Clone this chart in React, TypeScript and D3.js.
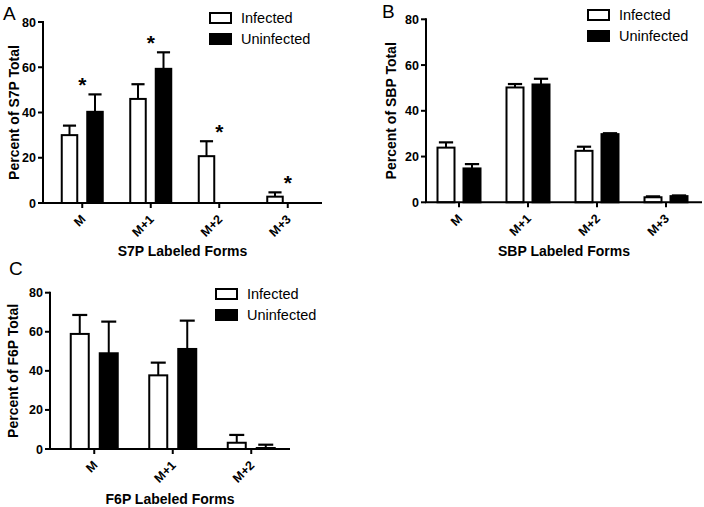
import React from "react";
import * as d3 from "d3";

const categoriesAB = ["M", "M+1", "M+2", "M+3"];
const categoriesC = ["M", "M+1", "M+2"];
const seriesNames = ["Infected", "Uninfected"];
const yTickValues = [0, 20, 40, 60, 80];

const s7pInfected = [30, 46, 20.7, 2.8];
const s7pInfectedErr = [4.2, 6.5, 6.6, 1.9];
const s7pUninfected = [40.3, 59.3, 0, 0];
const s7pUninfectedErr = [7.7, 7.3, 0, 0];
const s7pStars = [true, true, true, true];

const sbpInfected = [23.9, 50.2, 22.5, 2.2];
const sbpInfectedErr = [2.3, 1.5, 1.8, 0.4];
const sbpUninfected = [14.8, 51.5, 29.8, 2.7];
const sbpUninfectedErr = [1.9, 2.5, 0.4, 0.3];

const f6pInfected = [58.9, 37.7, 3.2];
const f6pInfectedErr = [9.7, 6.5, 4.0];
const f6pUninfected = [49, 51.2, 0.5];
const f6pUninfectedErr = [16.2, 14.5, 1.7];

const FONT = "'Liberation Sans', Arial, Helvetica, sans-serif";

type PanelProps = {
  letter: string;
  letterX: number;
  letterY: number;
  cats: string[];
  inf: number[];
  infErr: number[];
  un: number[];
  unErr: number[];
  stars?: boolean[];
  axisX: number;
  axisEnd: number;
  bandStart: number;
  bandEnd: number;
  yTop: number;
  yBottom: number;
  barW: number;
  gap: number;
  yLabel: string;
  yLabelX: number;
  xLabel: string;
  xLabelY: number;
  legendX: number;
  legendY: number;
};

function Panel(p: PanelProps) {
  const x0 = d3.scaleBand<string>().domain(p.cats).range([p.bandStart, p.bandEnd]);
  const groupW = p.barW * 2 + p.gap;
  const x1 = d3
    .scaleBand<string>()
    .domain(seriesNames)
    .range([-groupW / 2, groupW / 2])
    .paddingInner(p.gap / (p.barW + p.gap));
  const y = d3.scaleLinear().domain([0, 80]).range([p.yBottom, p.yTop]);
  const bw = x1.bandwidth();
  const series = [
    { name: "Infected", vals: p.inf, errs: p.infErr, fill: "#fff" },
    { name: "Uninfected", vals: p.un, errs: p.unErr, fill: "#000" },
  ];
  const capW = bw * 0.75;
  return (
    <g>
      <text x={p.letterX} y={p.letterY} fontSize={19} fontFamily={FONT}>
        {p.letter}
      </text>
      {/* bars */}
      {series.map((s) =>
        p.cats.map((c, i) => {
          const v = s.vals[i];
          if (!v) return null;
          const bx = (x0(c) as number) + x0.bandwidth() / 2 + (x1(s.name) as number);
          const top = y(v);
          const errTop = y(v + s.errs[i]);
          const cx = bx + bw / 2;
          return (
            <g key={s.name + c}>
              <line x1={cx} x2={cx} y1={top} y2={errTop} stroke="#000" strokeWidth={2} />
              <line x1={cx - capW / 2} x2={cx + capW / 2} y1={errTop} y2={errTop} stroke="#000" strokeWidth={2.2} />
              <rect x={bx + 1} y={top} width={bw - 2} height={y(0) - top} fill={s.fill} stroke="#000" strokeWidth={2} />
            </g>
          );
        })
      )}
      {/* stars */}
      {p.stars &&
        p.cats.map((c, i) => {
          if (!p.stars![i]) return null;
          const cx = (x0(c) as number) + x0.bandwidth() / 2;
          const top = Math.max(p.inf[i] + p.infErr[i], p.un[i] + p.unErr[i]);
          return (
            <text key={"st" + c} x={cx} y={y(top) - 2} textAnchor="middle" fontSize={21} fontWeight="bold" fontFamily={FONT}>
              *
            </text>
          );
        })}
      {/* y axis */}
      <line x1={p.axisX} x2={p.axisX} y1={y(80) - 1} y2={y(0)} stroke="#000" strokeWidth={2} />
      {yTickValues.map((t) => (
        <g key={"yt" + t}>
          <line x1={p.axisX - 5} x2={p.axisX} y1={y(t)} y2={y(t)} stroke="#000" strokeWidth={2} />
          <text x={p.axisX - 7} y={y(t)} dy="0.36em" textAnchor="end" fontSize={12.5} fontWeight="bold" fontFamily={FONT}>
            {t}
          </text>
        </g>
      ))}
      {/* x axis */}
      <line x1={p.axisX - 1} x2={p.axisEnd} y1={y(0)} y2={y(0)} stroke="#000" strokeWidth={2} />
      {p.cats.map((c) => {
        const cx = (x0(c) as number) + x0.bandwidth() / 2;
        return (
          <g key={"xt" + c}>
            <line x1={cx} x2={cx} y1={y(0)} y2={y(0) + 5} stroke="#000" strokeWidth={2} />
            <text
              transform={`translate(${cx + 4},${y(0) + 17}) rotate(-45)`}
              textAnchor="end"
              fontSize={12.5}
              fontWeight="bold"
              fontFamily={FONT}
            >
              {c}
            </text>
          </g>
        );
      })}
      {/* labels */}
      <text
        transform={`translate(${p.yLabelX},${(p.yTop + p.yBottom) / 2}) rotate(-90)`}
        textAnchor="middle"
        fontSize={14}
        fontWeight="bold"
        fontFamily={FONT}
      >
        {p.yLabel}
      </text>
      <text x={(p.axisX + p.axisEnd) / 2} y={p.xLabelY} textAnchor="middle" fontSize={14} fontWeight="bold" fontFamily={FONT}>
        {p.xLabel}
      </text>
      {/* legend */}
      {series.map((s, i) => (
        <g key={"lg" + s.name}>
          <rect x={p.legendX} y={p.legendY + i * 21} width={21} height={10} fill={s.fill} stroke="#000" strokeWidth={2} />
          <text x={p.legendX + 31} y={p.legendY + i * 21 + 5} dy="0.36em" fontSize={14.5} fontFamily={FONT}>
            {s.name}
          </text>
        </g>
      ))}
    </g>
  );
}

export default function App() {
  return (
    <svg width={704} height={507} style={{ position: "absolute", left: 0, top: 0, background: "#fff" }}>
      <rect width={704} height={507} fill="#fff" />
      <Panel
        letter="A"
        letterX={3}
        letterY={20}
        cats={categoriesAB}
        inf={s7pInfected}
        infErr={s7pInfectedErr}
        un={s7pUninfected}
        unErr={s7pUninfectedErr}
        stars={s7pStars}
        axisX={43}
        axisEnd={322}
        bandStart={48}
        bandEnd={322}
        yTop={22}
        yBottom={203}
        barW={17.5}
        gap={8}
        yLabel="Percent of S7P Total"
        yLabelX={19}
        xLabel="S7P Labeled Forms"
        xLabelY={256}
        legendX={210}
        legendY={13}
      />
      <Panel
        letter="B"
        letterX={382}
        letterY={18}
        cats={categoriesAB}
        inf={sbpInfected}
        infErr={sbpInfectedErr}
        un={sbpUninfected}
        unErr={sbpUninfectedErr}
        axisX={426}
        axisEnd={702}
        bandStart={424.5}
        bandEnd={700.5}
        yTop={19.3}
        yBottom={202.3}
        barW={19}
        gap={7}
        yLabel="Percent of SBP Total"
        yLabelX={396}
        xLabel="SBP Labeled Forms"
        xLabelY={256}
        legendX={588}
        legendY={10}
      />
      <Panel
        letter="C"
        letterX={9}
        letterY={275}
        cats={categoriesC}
        inf={f6pInfected}
        infErr={f6pInfectedErr}
        un={f6pUninfected}
        unErr={f6pUninfectedErr}
        axisX={50}
        axisEnd={290}
        bandStart={55}
        bandEnd={290.5}
        yTop={292.7}
        yBottom={449}
        barW={20}
        gap={9}
        yLabel="Percent of F6P Total"
        yLabelX={18}
        xLabel="F6P Labeled Forms"
        xLabelY={504}
        legendX={216}
        legendY={289}
      />
    </svg>
  );
}
